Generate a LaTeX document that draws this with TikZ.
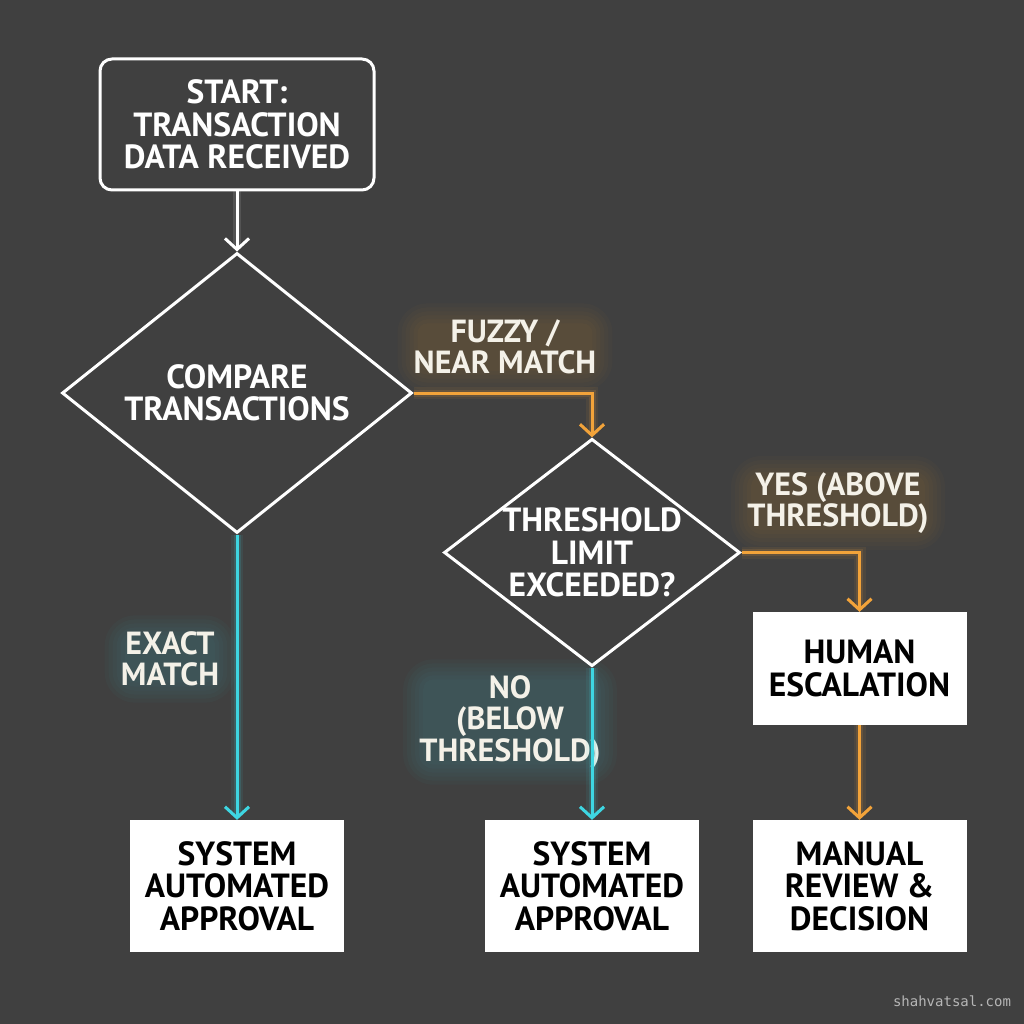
\documentclass[tikz,border=0pt]{standalone}
\usepackage{fontspec}
\setmainfont{PT Sans}
\setmonofont{DejaVu Sans Mono}
\usetikzlibrary{arrows.meta,shapes.geometric,calc}
\definecolor{bg}{HTML}{404040}
\definecolor{orng}{HTML}{F2A33A}
\definecolor{cyn}{HTML}{3ED6E2}
\definecolor{lblw}{HTML}{F4F1E8}
\pgfdeclarelayer{bgl}
\pgfdeclarelayer{glowl}
\pgfsetlayers{bgl,glowl,main}
\newcommand{\glowbehind}[2]{%
  \begin{pgfonlayer}{glowl}
  \foreach \r in {-6,-2,2,6,10,14} {
    \fill[#2, opacity=0.028, rounded corners={\r+16}]
      ($(#1.south west)+(-\r,\r)$) rectangle ($(#1.north east)+(\r,-\r)$);
  }
  \end{pgfonlayer}}
\begin{document}
\begin{tikzpicture}[x=1pt,y=-1pt,
  txt/.style={font=\bfseries\fontsize{33.5}{32.5}\selectfont, align=center},
  startbox/.style={txt, draw=white, line width=3pt, rounded corners=12pt, text=white,
    minimum width=274pt, minimum height=131pt, inner sep=0pt},
  dia/.style={txt, diamond, draw=white, line width=3pt, text=white, shape aspect=1.3, inner sep=0pt},
  whitebox/.style={txt, fill=white, text=black, minimum width=214pt, minimum height=132pt, inner sep=0pt},
  lbl/.style={font=\bfseries\fontsize{32}{31.5}\selectfont, align=center, text=lblw, inner sep=2pt},
  tip/.style={-{Straight Barb[length=11pt,width=24pt,line width=3pt]}},
  warrow/.style={tip, draw=white, line width=3pt,
    preaction={draw=white, line width=8pt, opacity=0.1}},
  oarrow/.style={tip, draw=orng, line width=3pt,
    preaction={draw=orng, line width=12pt, opacity=0.08},
    preaction={draw=orng, line width=7pt, opacity=0.14}},
  carrow/.style={tip, draw=cyn, line width=3pt,
    preaction={draw=cyn, line width=12pt, opacity=0.08},
    preaction={draw=cyn, line width=7pt, opacity=0.14}}
]
\begin{pgfonlayer}{bgl}
\fill[bg] (0,0) rectangle (1024,1024);
\end{pgfonlayer}
\useasboundingbox (0,0) rectangle (1024,1024);

\node[lbl] (lfuzzy) at (505,347) {FUZZY /\\NEAR MATCH};
\node[lbl] (lyes) at (838,503) {YES (ABOVE\\THRESHOLD)};
\node[lbl] (lexact) at (170,659) {EXACT\\MATCH};
\node[lbl] (lno) at (510,722) {NO\\(BELOW\\THRESHOLD)};
\glowbehind{lfuzzy}{orng}
\glowbehind{lyes}{orng}
\glowbehind{lexact}{cyn}
\glowbehind{lno}{cyn}

\node[startbox] (start) at (237,124.5) {START:\\TRANSACTION\\DATA RECEIVED};
\node[dia, minimum width=350pt, minimum height=280pt] (cmp) at (237,393) {COMPARE\\TRANSACTIONS};
\node[dia, minimum width=296pt, minimum height=225pt] (thr) at (592,552.5) {THRESHOLD\\LIMIT\\EXCEEDED?};
\node[whitebox] (sys1) at (237,886) {SYSTEM\\AUTOMATED\\APPROVAL};
\node[whitebox] (sys2) at (592,886) {SYSTEM\\AUTOMATED\\APPROVAL};
\node[whitebox, minimum height=113pt] (human) at (859.5,668.5) {HUMAN\\ESCALATION};
\node[whitebox] (manual) at (859.5,886) {MANUAL\\REVIEW \&\\DECISION};

\draw[warrow] (start) -- (cmp.north);
\draw[oarrow] (cmp.east) -| (thr.north);
\draw[oarrow] (thr.east) -| (human.north);
\draw[oarrow] (human) -- (manual);
\draw[carrow] (cmp.south) -- (sys1.north);
\draw[carrow] (thr.south) -- (sys2.north);

\node[font=\ttfamily\fontsize{14}{14}\selectfont, text=white!62!bg] (wm) at (952,1001) {shahvatsal.com};
\end{tikzpicture}
\end{document}
